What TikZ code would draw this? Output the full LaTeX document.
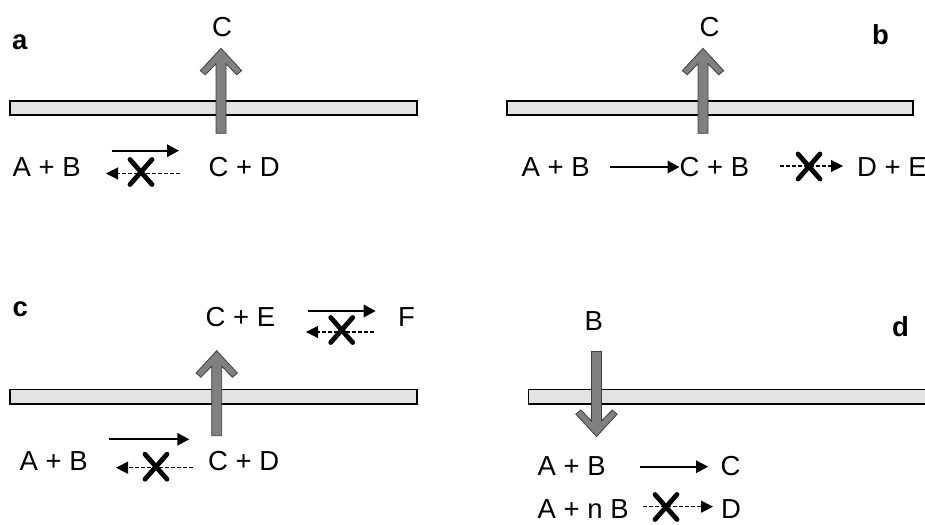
\documentclass[tikz,border=0pt]{standalone}
\usepackage{fontspec}
\setmainfont{Liberation Sans}
\usetikzlibrary{arrows.meta}

\tikzset{
  txt/.style={inner sep=0pt, anchor=base west, font=\fontsize{27.5}{30}\selectfont},
  paneltag/.style={txt, font=\fontsize{27.5}{30}\selectfont\bfseries},
  membrane/.style={draw=black, line width=1.4pt, fill=black!11},
  fwd/.style={line width=1.7pt, -{Triangle[length=12pt,width=12.5pt]}},
  blocked/.style={line width=1.1pt, dash pattern=on 4pt off 2pt, -{Triangle[length=12pt,width=12pt]}},
  xmark/.style={line width=4.8pt, line cap=round},
  flux/.pic={
    \draw[draw=black!75, line width=0.8pt, fill=black!50]
      (0,0) -- (20.7,22.4) -- (15.7,26.5) -- (5,15.5) -- (5,85) -- (-5,85)
      -- (-5,15.5) -- (-15.7,26.5) -- (-20.7,22.4) -- cycle;
  },
  nogo/.pic={
    \draw[xmark] (-11,-12.5) -- (11,12.5) (-11,12.5) -- (11,-12.5);
  }
}

\begin{document}
\begin{tikzpicture}[x=1pt, y=-1pt]
\useasboundingbox (0,0) rectangle (925,524);

% ---------------- panel a ----------------
\draw[membrane] (10,101) rectangle (417,115);
\pic at (221,48.3) {flux};
\node[paneltag] (tagA) at (12,49.5) {a};
\node[txt, anchor=base] (aC) at (222,36.5) {C};
\node[txt] (aAB) at (12.5,176.5) {A + B};
\node[txt] (aCD) at (208.5,176.5) {C + D};
\coordinate (a1s) at (111.7,150.7);
\coordinate (a1e) at (179,150.7);
\coordinate (a2s) at (180,173.5);
\coordinate (a2e) at (106,173.5);
\draw[fwd] (a1s) -- (a1e);
\draw[blocked] (a2s) -- (a2e);
\pic at (141,172) {nogo};

% ---------------- panel b ----------------
\draw[membrane] (507,101) rectangle (913,115);
\pic at (703,48.3) {flux};
\node[paneltag] (tagB) at (872,45) {b};
\node[txt, anchor=base] (bC) at (709.5,36.5) {C};
\node[txt] (bAB) at (521.5,176.5) {A + B};
\node[txt] (bCB) at (679.5,176.5) {C + B};
\node[txt] (bDE) at (857,176.5) {D + E};
\coordinate (b1s) at (610,167);
\coordinate (b2s) at (780,166);
\coordinate (b2e) at (843,166);
\draw[fwd] (b1s) -- (b1s -| bCB.west);
\draw[blocked] (b2s) -- (b2e);
\pic at (809,166.5) {nogo};

% ---------------- panel c ----------------
\draw[membrane] (10,389.5) rectangle (417,404);
\pic at (216.7,350.7) {flux};
\node[paneltag] (tagC) at (12.5,316.5) {c};
\node[txt] (cCE) at (205.5,326.5) {C + E};
\node[txt] (cF) at (398,326.5) {F};
\node[txt] (cAB) at (19.5,470) {A + B};
\node[txt] (cCD) at (208,470) {C + D};
\coordinate (c1s) at (308,311);
\coordinate (c1e) at (375.7,311);
\coordinate (c2s) at (374,332);
\coordinate (c2e) at (306,332);
\draw[fwd] (c1s) -- (c1e);
\draw[blocked] (c2s) -- (c2e);
\pic at (341.7,330) {nogo};
\coordinate (c3s) at (109,439.3);
\coordinate (c3e) at (189.3,439.3);
\coordinate (c4s) at (193,467.7);
\coordinate (c4e) at (116,467.7);
\draw[fwd] (c3s) -- (c3e);
\draw[blocked] (c4s) -- (c4e);
\pic at (156,466.7) {nogo};

% ---------------- panel d ----------------
\draw[membrane] (528.5,389.5) rectangle (935,404);
\pic[yscale=-1] at (596.5,436.5) {flux};
\node[paneltag] (tagD) at (892,336.5) {d};
\node[txt] (dB) at (584.5,330) {B};
\node[txt] (dAB) at (537.5,475) {A + B};
\node[txt] (dC) at (720.5,475) {C};
\node[txt] (dAnB) at (537.5,518.5) {A + n B};
\node[txt] (dD) at (721,518.5) {D};
\coordinate (d1s) at (640,466.7);
\coordinate (d1e) at (708,466.7);
\coordinate (d2s) at (643,506.7);
\coordinate (d2e) at (713,506.7);
\draw[fwd] (d1s) -- (d1e);
\draw[blocked] (d2s) -- (d2e);
\pic at (666,507) {nogo};
\end{tikzpicture}
\end{document}
